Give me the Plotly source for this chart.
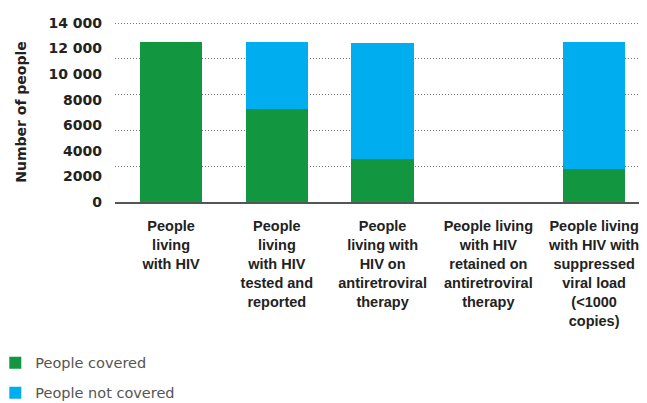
import plotly.graph_objects as go

# HIV cascade data
stages = [
    "People<br>living<br>with HIV",
    "People<br>living<br>with HIV<br>tested and<br>reported",
    "People<br>living with<br>HIV on<br>antiretroviral<br>therapy",
    "People living<br>with HIV<br>retained on<br>antiretroviral<br>therapy",
    "People living<br>with HIV with<br>suppressed<br>viral load<br>(<1000<br>copies)",
]
covered = [12500, 7300, 3400, None, 2600]
not_covered = [0, 5200, 9000, None, 9900]

tick_vals = [0, 2000, 4000, 6000, 8000, 10000, 12000, 14000]
tick_text = ["0", "2000", "4000", "6000", "8000", "10 000", "12 000", "14 000"]
grid_vals = [0, 2800, 5600, 8400, 11200, 14000]

green = "#12963F"
blue = "#00AEEF"
font = "DejaVu Sans"
cat_font = "Liberation Sans"

fig = go.Figure()
fig.add_trace(go.Bar(x=stages, y=covered, name="People covered",
                     marker=dict(color=green, line_width=0), legendgroup="a"))
fig.add_trace(go.Bar(x=stages, y=not_covered, name="People not covered",
                     marker=dict(color=blue, line_width=0), legendgroup="b"))

# page body has an 8px margin, so the margins compensate for it
fig.update_layout(
    width=647, height=403,
    barmode="stack",
    bargap=0.41,
    plot_bgcolor="white",
    paper_bgcolor="white",
    margin=dict(l=107, r=8, t=14, b=209, autoexpand=False),
    font=dict(family=font, color="#222"),
    xaxis=dict(
        range=[-0.53, 4.5],
        automargin=False,
        showgrid=False,
        showline=True, linecolor="#555", linewidth=2,
        layer="above traces",
        ticks="", ticklabelstandoff=10,
        tickfont=dict(size=14.5, family=cat_font, weight="bold", color="#222"),
    ),
    yaxis=dict(
        range=[0, 14080],
        automargin=False,
        tickvals=grid_vals,
        showticklabels=False,
        showgrid=True, gridcolor="#777", gridwidth=1, griddash="1px,2px",
        zeroline=False,
    ),
    yaxis2=dict(
        overlaying="y", anchor="x", side="left",
        range=[0, 14080],
        automargin=False,
        tickvals=tick_vals, ticktext=tick_text,
        showgrid=False, zeroline=False,
        ticklabelstandoff=12,
        tickfont=dict(size=14, family=font, weight="bold", color="#222"),
        title=dict(text="Number of people", standoff=18,
                   font=dict(size=14, family=font, weight="bold", color="#222")),
    ),
    legend=dict(
        orientation="v",
        x=-0.225, xanchor="left",
        y=-0.805, yanchor="top",
        traceorder="grouped",
        tracegroupgap=8,
        font=dict(size=14.5, family=font, color="#555"),
    ),
)

fig.add_trace(go.Scatter(x=[], y=[], yaxis="y2", showlegend=False, hoverinfo="skip"))

fig.write_html("out.html")
